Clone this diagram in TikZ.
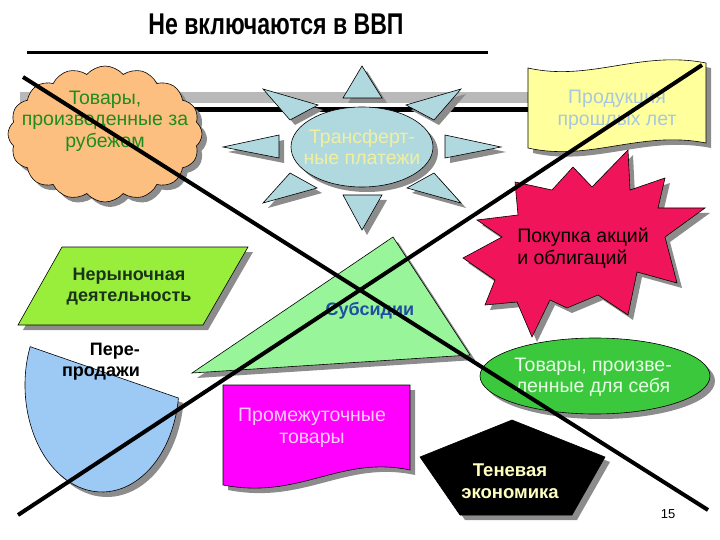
\documentclass[tikz,border=0pt]{standalone}
\usepackage{graphicx}
\usepackage{fontspec}
\setmainfont{Liberation Sans}
\usetikzlibrary{shapes.symbols}
\definecolor{shadowc}{HTML}{8C8C8C}
\definecolor{cloudfill}{HTML}{FDBF80}
\definecolor{cloudtext}{HTML}{1E8C1E}
\definecolor{sunfill}{HTML}{B0D8DF}
\definecolor{suntext}{HTML}{F0F0A0}
\definecolor{scrollfill}{HTML}{FFFF9C}
\definecolor{scrolltext}{HTML}{A8C8DC}
\definecolor{boomfill}{HTML}{F0145A}
\definecolor{parafill}{HTML}{99EE3C}
\definecolor{paratext}{HTML}{1A331A}
\definecolor{trifill}{HTML}{99F599}
\definecolor{tritext}{HTML}{1F4FA0}
\definecolor{chordfill}{HTML}{9CCAF5}
\definecolor{magfill}{HTML}{FF00FF}
\definecolor{magtext}{HTML}{FFCCFF}
\definecolor{ellfill}{HTML}{3CC83C}
\definecolor{elltext}{HTML}{E6FFE6}
\definecolor{pentext}{HTML}{FFFFC0}
\begin{document}
\begin{tikzpicture}[x=1pt,y=-1pt,
  sh/.style={preaction={draw=none,fill=shadowc,transform canvas={shift={(5,5)}}}},
  shp/.style={draw=black,line width=0.6pt,sh},
  lbl/.style={align=center,font=\fontsize{19.5}{21.5}\selectfont,inner sep=0pt},
  blbl/.style={align=center,font=\fontsize{18}{21}\selectfont\bfseries,inner sep=0pt},
  cross/.style={line width=4pt,black}]
\useasboundingbox (0,0) rectangle (720,540);

% title
\node[inner sep=0pt] (title) at (276,24) {\scalebox{0.77}[1]{\fontsize{30}{34}\selectfont\bfseries Не включаются в ВВП}};
\coordinate (tl1) at (27,53);
\coordinate (tl2) at (488,53);
\draw[line width=3pt] (tl1) -- (tl2);

% bar
\fill[gray!55] (20,92) rectangle (530,103);
\coordinate (bl1) at (18,110);
\coordinate (bl2) at (530,110);
\draw[line width=5pt] (bl1) -- (bl2);

% cloud
\node[cloud, cloud puffs=16, cloud puff arc=100, aspect=1.45, minimum width=194pt, minimum height=136pt, inner sep=0pt, shp, fill=cloudfill] (cloud) at (105,134) {};
\node[lbl,text=cloudtext] (cloudt) at (105,121) {Товары,\\произведенные за\\рубежом};

% sun
\foreach \p in {
  {(362,66) -- (382,98) -- (343,98)},
  {(362,230) -- (382,195) -- (343,195)},
  {(223,147) -- (279,135) -- (279,158)},
  {(501,147) -- (445,135) -- (445,158)},
  {(263,89) -- (318,105) -- (290,120)},
  {(461,89) -- (406,105) -- (434,120)},
  {(263,203) -- (290,173) -- (317,188)},
  {(461,203) -- (434,173) -- (407,188)}}
  {\path[shp,fill=sunfill] \p -- cycle;}
\path[shp,fill=sunfill] (362,147) ellipse [x radius=71, y radius=40];
\node[lbl,text=suntext] (sunt) at (362,147) {Трансферт-\\ные платежи};

% scroll
\path[shp,fill=scrollfill] (528,68) .. controls (590,82) and (640,50) .. (706,63)
  -- (706,143) .. controls (640,130) and (590,162) .. (528,148) -- cycle;
\node[lbl,text=scrolltext] (scrollt) at (617,110) {Продукция\\прошлых лет};

% explosion
\path[shp,fill=boomfill] (463,258) -- (502,237) -- (477,220) -- (518,215) -- (515,182)
  -- (552,190) -- (573,167) -- (592,187) -- (628,150) -- (630,190) -- (665,178)
  -- (658,208) -- (705,208) -- (665,237) -- (677,283) -- (637,272) -- (628,315)
  -- (598,295) -- (567,308) -- (550,300) -- (532,337) -- (517,302) -- (485,305)
  -- (495,280) -- cycle;
\node[lbl,align=left,text=black] (boomt) at (583,248) {Покупка акций\\и облигаций};

% parallelogram
\path[shp,fill=parafill] (62,247) -- (248,247) -- (203,325) -- (18,325) -- cycle;
\node[blbl,text=paratext] (parat) at (129,287) {Нерыночная\\деятельность};

% triangle
\path[shp,fill=trifill] (393,237) -- (470,355) -- (192,373) -- cycle;
\node[blbl,text=tritext] (trit) at (370,311) {Субсидии};

% chord
\path[shp,fill=chordfill] (102,385) ++(201:77 and 107)
  arc[start angle=201, end angle=7, x radius=77, y radius=107] -- cycle;
\node[blbl,align=right,text=black] (chordt) at (101,362) {Пере-\\продажи};

% magenta document
\path[shp,fill=magfill] (223,385) -- (410,385) -- (410,470)
  .. controls (340,455) and (300,500) .. (223,485) -- cycle;
\node[lbl,text=magtext] (magt) at (312,428) {Промежуточные\\товары};

% green ellipse
\path[shp,fill=ellfill] (595,376) ellipse [x radius=115, y radius=38];
\node[lbl,text=elltext] (ellt) at (593,377) {Товары, произве-\\ленные для себя};

% pentagon
\path[shp,fill=black] (512,420) -- (605,457) -- (572,515) -- (460,515) -- (420,457) -- cycle;
\node[align=center,font=\fontsize{18.5}{22}\selectfont\bfseries,inner sep=0pt,text=pentext] (pent) at (510,481) {Теневая\\экономика};

% page number
\node[font=\fontsize{13}{15}\selectfont,inner sep=0pt] (pnum) at (668,514) {15};

% crossing lines
\coordinate (a1) at (23,77);
\coordinate (a2) at (708,510);
\coordinate (b1) at (18,515);
\coordinate (b2) at (702,65);
\draw[cross] (a1) -- (a2);
\draw[cross] (b1) -- (b2);
\end{tikzpicture}
\end{document}
